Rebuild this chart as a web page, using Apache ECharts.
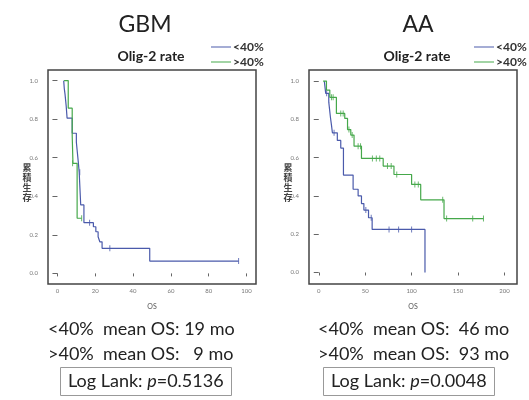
<!DOCTYPE html>
<html>
<head>
<meta charset="utf-8">
<script src="https://cdn.jsdelivr.net/npm/echarts@6/dist/echarts.min.js"></script>
<style>
  html, body { margin: 0; padding: 0; background: #fff; }
  #km-chart { width: 529px; height: 400px; }
</style>
</head>
<body>
<div id="km-chart"></div>
<script>
'use strict';

// GBM, Olig-2 < 40%
var gbmLowTime = [3.3, 3.6, 4.0, 4.6, 5.1, 7.8, 10.0, 10.5, 11.0, 11.5, 12.3, 14.0, 19.0, 20.3, 21.5, 22.4, 23.6, 48.8, 95.8];
var gbmLowSurv = [1.0, 0.96, 0.93, 0.87, 0.805, 0.727, 0.68, 0.63, 0.58, 0.525, 0.355, 0.263, 0.242, 0.216, 0.19, 0.164, 0.13, 0.064, 0.064];
var gbmLowCensorTime = [11.8, 17.0, 27.7, 95.8];
var gbmLowCensorSurv = [0.525, 0.263, 0.13, 0.064];
// GBM, Olig-2 > 40%
var gbmHighTime = [3.5, 5.7, 7.8, 8.2, 10.4, 12.8];
var gbmHighSurv = [1.0, 0.857, 0.714, 0.571, 0.286, 0.286];
var gbmHighCensorTime = [8.0, 12.8];
var gbmHighCensorSurv = [0.571, 0.286];

// AA, Olig-2 < 40%
var aaLowTime = [6.0, 7.5, 10.8, 12.6, 13.7, 14.7, 20.0, 23.7, 26.6, 37.0, 42.4, 46.0, 48.6, 53.6, 57.5, 114.4];
var aaLowSurv = [1.0, 0.936, 0.89, 0.81, 0.77, 0.73, 0.69, 0.65, 0.509, 0.435, 0.40, 0.36, 0.326, 0.286, 0.225, 0.0];
var aaLowCensorTime = [8.5, 16.5, 50.7, 56.5, 75.7, 86.0, 100.0];
var aaLowCensorSurv = [0.936, 0.73, 0.326, 0.286, 0.225, 0.225, 0.225];
// AA, Olig-2 > 40%
var aaHighTime = [4.7, 8.3, 11.9, 19.0, 28.0, 31.0, 34.5, 38.0, 46.0, 69.4, 81.0, 100.0, 109.8, 134.9, 177.4];
var aaHighSurv = [1.0, 0.953, 0.915, 0.831, 0.805, 0.747, 0.718, 0.66, 0.596, 0.556, 0.512, 0.46, 0.38, 0.282, 0.282];
var aaHighCensorTime = [13.7, 15.5, 23.7, 26.3, 32.5, 36.0, 42.4, 45.0, 57.8, 62.0, 65.7, 74.0, 78.0, 84.0, 103.5, 107.2, 133.5, 137.7, 165.8, 177.4];
var aaHighCensorSurv = [0.915, 0.915, 0.831, 0.831, 0.747, 0.718, 0.66, 0.66, 0.596, 0.596, 0.596, 0.556, 0.556, 0.512, 0.46, 0.46, 0.38, 0.282, 0.282, 0.282];

// tick labels
var gbmXTicks = [0, 20, 40, 60, 80, 100];
var aaXTicks = [0, 50, 100, 150, 200];
var survTicks = [0, 0.2, 0.4, 0.6, 0.8, 1.0];
var groupNames = ['<40%', '>40%'];

var blue = '#4a5aab';
var green = '#45a84a';
var font = 'Lato, "Open Sans", sans-serif';

function pairs(xs, ys) {
  return xs.map(function(x, i) { return [x, ys[i]]; });
}

function xAxisFor(grid, min, max, ticks) {
  return {
    gridIndex: grid,
    type: 'value',
    min: min,
    max: max,
    name: 'OS',
    nameLocation: 'middle',
    nameGap: 19,
    nameTextStyle: { fontSize: 7, color: '#555', fontFamily: font },
    axisLine: { show: false },
    splitLine: { show: false },
    axisTick: { show: true, length: 3, customValues: ticks, lineStyle: { color: '#666' } },
    axisLabel: { fontSize: 6, color: '#777', margin: 4, customValues: ticks, fontFamily: font }
  };
}

function yAxisFor(grid, min, max) {
  return {
    gridIndex: grid,
    type: 'value',
    min: min,
    max: max,
    axisLine: { show: false },
    splitLine: { show: false },
    axisTick: { show: true, length: 5, customValues: survTicks, lineStyle: { color: '#666' } },
    axisLabel: {
      fontSize: 6, color: '#777', margin: 10, customValues: survTicks, fontFamily: font,
      formatter: function(v) { return v.toFixed(1); }
    }
  };
}

function curve(name, idx, data, color) {
  return {
    name: name, type: 'line', step: 'end',
    xAxisIndex: idx, yAxisIndex: idx,
    data: data, showSymbol: false, symbol: 'none',
    lineStyle: { color: color, width: 1.2 },
    itemStyle: { color: color },
    animation: false
  };
}

function censor(name, idx, data, color) {
  return {
    name: name, type: 'scatter',
    xAxisIndex: idx, yAxisIndex: idx,
    data: data, symbol: 'rect', symbolSize: [1, 6],
    itemStyle: { color: color },
    animation: false
  };
}

function legendAt(left) {
  return {
    data: groupNames, orient: 'vertical', left: left, top: 36,
    icon: 'rect', itemWidth: 20, itemHeight: 1, itemGap: 3,
    textStyle: { fontSize: 12, fontWeight: 'bold', color: '#333', fontFamily: font, padding: [0, 0, 0, -3] },
    selectedMode: false
  };
}

// stacked y axis name (累積生存), one character per line
function yName(left) {
  return {
    text: '累\n積\n生\n存', left: left, top: 158, textAlign: 'center',
    textStyle: { fontSize: 9, fontWeight: 'bold', lineHeight: 10, color: '#444', fontFamily: '"Noto Sans CJK TC", sans-serif' }
  };
}

function noteText(left, top, text) {
  return { text: text, left: left, top: top, textStyle: { fontSize: 18, fontWeight: 'normal', color: '#222', fontFamily: font } };
}

function pBox(left, pValue) {
  return {
    text: '{a|Log Lank: }{i|p}{a|=' + pValue + '}',
    left: left, top: 367,
    borderColor: '#999', borderWidth: 1, padding: [5, 8, 6, 8],
    textStyle: {
      fontWeight: 'normal',
      rich: {
        a: { fontSize: 18, fontWeight: 'normal', color: '#222', fontFamily: font },
        i: { fontSize: 18, fontWeight: 'normal', color: '#222', fontStyle: 'italic', fontFamily: font }
      }
    }
  };
}

var myChart = echarts.init(document.getElementById('km-chart'));
myChart.setOption({
  animation: false,
  title: [
    { text: 'GBM', left: 140, top: 8, textAlign: 'center', textStyle: { fontSize: 23, fontWeight: 'normal', color: '#222', fontFamily: font } },
    { text: 'AA', left: 413, top: 8, textAlign: 'center', textStyle: { fontSize: 23, fontWeight: 'normal', color: '#222', fontFamily: font } },
    { text: 'Olig-2 rate', left: 146, top: 44, textAlign: 'center', textStyle: { fontSize: 14, fontWeight: 'bold', color: '#222', fontFamily: font } },
    { text: 'Olig-2 rate', left: 412, top: 44, textAlign: 'center', textStyle: { fontSize: 14, fontWeight: 'bold', color: '#222', fontFamily: font } },
    yName(22),
    yName(283),
    noteText(43, 315, '<40%  mean OS: 19 mo'),
    noteText(43, 340, '>40%  mean OS:   9 mo'),
    noteText(313, 315, '<40%  mean OS:  46 mo'),
    noteText(313, 340, '>40%  mean OS:  93 mo'),
    pBox(60, '0.5136'),
    pBox(323, '0.0048')
  ],
  legend: [legendAt(206), legendAt(469)],
  grid: [
    { left: 48, top: 70, width: 208, height: 214, show: true, borderColor: '#444', borderWidth: 1.5, backgroundColor: '#fff' },
    { left: 309, top: 70, width: 208, height: 214, show: true, borderColor: '#444', borderWidth: 1.5, backgroundColor: '#fff' }
  ],
  xAxis: [
    xAxisFor(0, -5, 105, gbmXTicks),
    xAxisFor(1, -10.5, 213.5, aaXTicks)
  ],
  yAxis: [
    yAxisFor(0, -0.055, 1.055),
    yAxisFor(1, -0.06, 1.058)
  ],
  series: [
    curve('<40%', 0, pairs(gbmLowTime, gbmLowSurv), blue),
    curve('>40%', 0, pairs(gbmHighTime, gbmHighSurv), green),
    censor('GBM <40% censored', 0, pairs(gbmLowCensorTime, gbmLowCensorSurv), blue),
    censor('GBM >40% censored', 0, pairs(gbmHighCensorTime, gbmHighCensorSurv), green),
    curve('<40%', 1, pairs(aaLowTime, aaLowSurv), blue),
    curve('>40%', 1, pairs(aaHighTime, aaHighSurv), green),
    censor('AA <40% censored', 1, pairs(aaLowCensorTime, aaLowCensorSurv), blue),
    censor('AA >40% censored', 1, pairs(aaHighCensorTime, aaHighCensorSurv), green)
  ]
});
</script>
</body>
</html>
